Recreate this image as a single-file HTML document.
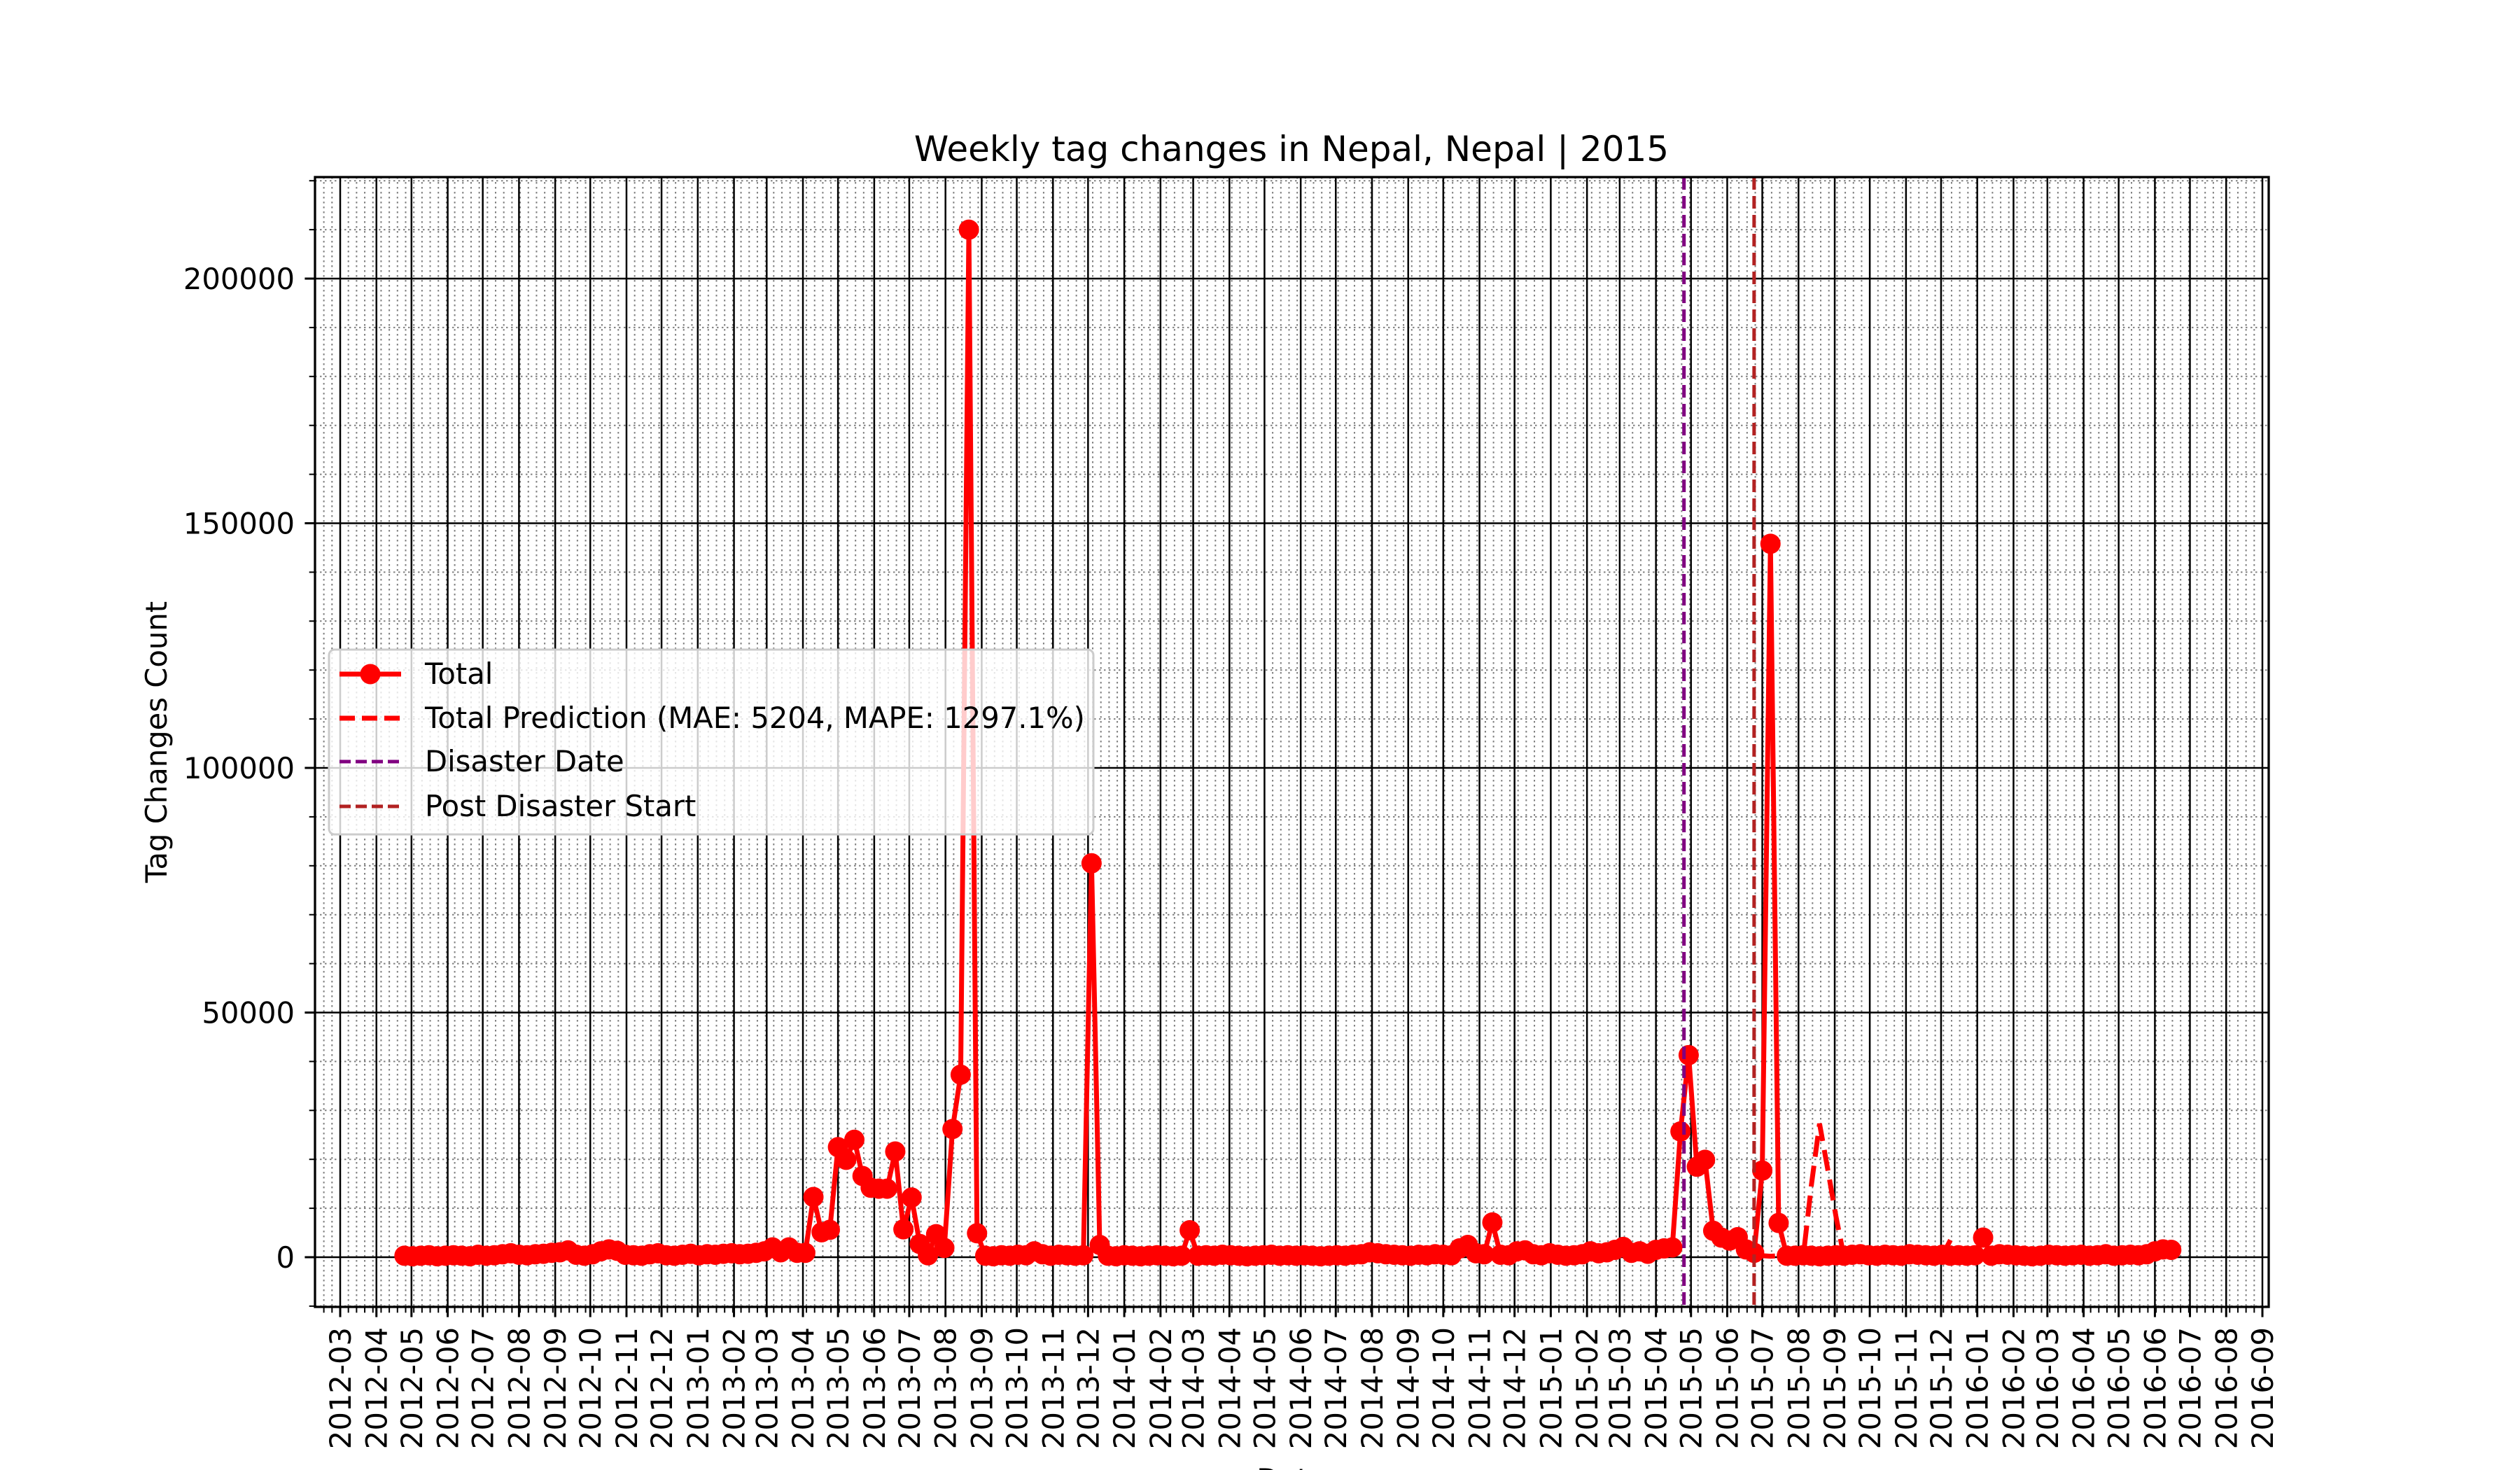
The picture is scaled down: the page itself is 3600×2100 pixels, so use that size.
<!DOCTYPE html>
<html><head><meta charset="utf-8"><style>
html,body{margin:0;padding:0;background:#fff;}
svg{display:block;font-family:"DejaVu Sans","Liberation Sans",sans-serif;}
</style></head><body>
<svg id="chart" xmlns="http://www.w3.org/2000/svg" width="3600" height="2100" viewBox="0 0 3600 2100">
<rect x="0" y="0" width="3600" height="2100" fill="#fff"/>
<g id="grid"></g>
<g id="series"></g>
<g id="axes"></g>
<text x="1845" y="230" font-size="50" text-anchor="middle">Weekly tag changes in Nepal, Nepal | 2015</text>
<text transform="translate(238,1060) rotate(-90)" font-size="41.7" text-anchor="middle">Tag Changes Count</text>
<text x="1845" y="2128" font-size="41.7" text-anchor="middle">Date</text>
<g id="legend">
  <rect x="470" y="928" width="1092" height="264" rx="8" fill="rgba(255,255,255,0.8)" stroke="#cccccc" stroke-width="3"/>
  <g>
    <line x1="485" y1="963" x2="573" y2="963" stroke="#ff0000" stroke-width="7"/>
    <circle cx="529" cy="963" r="14.5" fill="#ff0000"/>
    <text x="607" y="977" font-size="41.7">Total</text>
  </g>
  <g>
    <line x1="485" y1="1026" x2="573" y2="1026" stroke="#ff0000" stroke-width="7" stroke-dasharray="22,10"/>
    <text x="607" y="1040" font-size="41.7">Total Prediction (MAE: 5204, MAPE: 1297.1%)</text>
  </g>
  <g>
    <line x1="485" y1="1088" x2="573" y2="1088" stroke="#800080" stroke-width="5" stroke-dasharray="16,7"/>
    <text x="607" y="1102" font-size="41.7">Disaster Date</text>
  </g>
  <g>
    <line x1="485" y1="1152" x2="573" y2="1152" stroke="#b22222" stroke-width="5" stroke-dasharray="16,7"/>
    <text x="607" y="1166" font-size="41.7">Post Disaster Start</text>
  </g>
</g>
</svg>
<script>
// ---- data ----
const startDate = "2012-04-25"; // first weekly point
const totalValues = [
300,200,300,400,200,300,400,300,200,500,
300,400,600,800,500,400,600,700,900,1000,
1400,500,300,600,1200,1600,1300,500,400,300,
600,800,400,300,500,700,400,600,500,700,
800,600,700,900,1200,2000,1000,2000,900,900,
12300,5100,5600,22500,19900,24000,16600,14200,14000,14000,
21600,5700,12200,2700,400,4700,1900,26200,37300,210000,
4900,300,200,400,300,500,400,1200,600,300,
500,400,300,400,80500,2500,300,200,400,300,
200,300,400,300,200,300,5500,300,400,300,
500,400,300,200,300,400,500,300,400,300,
400,300,200,300,400,300,500,600,1000,800,
600,500,400,300,500,400,600,500,400,1800,
2500,800,600,7100,500,400,1200,1400,600,400,
800,500,300,400,600,1200,800,1000,1500,2100,
900,1200,700,1500,1800,2000,25700,41300,18500,19900,
5400,4000,3400,4100,1600,900,17700,145800,7000,300,
300,400,300,200,300,400,300,500,600,400,
300,500,400,300,600,500,400,300,500,300,
400,300,400,4000,300,600,500,400,300,200,
300,500,400,300,400,500,300,400,600,300,
400,500,400,600,1200,1600,1500
];
const predStartIndex = 165;
const predValues = [500,300,200,300,200,300,0,14700,27300,18000,8400,0,200,300,200,300,200,300,200,300,200,300,300,300,3500];
const disasterDate = "2015-04-25";
const postDisasterDate = "2015-06-24";
const yTicks = [0,50000,100000,150000,200000];
const yTickLabels = ["0","50000","100000","150000","200000"];
const xStartMonth = "2012-03-01", xEndMonth = "2016-09-01";

// ---- scales ----
const PL=450, PR=3241, PT=253, PB=1867;
const ORIGIN = Date.UTC(2012,2,1);
function dayOf(s){const p=s.split('-').map(Number);return (Date.UTC(p[0],p[1]-1,p[2])-ORIGIN)/86400000;}
const X0=486, X1=3232, D1=dayOf(xEndMonth);
function xs(day){return X0+day*(X1-X0)/D1;}
function ys(v){return 1796 - v*(1398/200000);}
const NS="http://www.w3.org/2000/svg";
function mk(tag,attrs,parent){const e=document.createElementNS(NS,tag);for(const k in attrs)e.setAttribute(k,attrs[k]);parent.appendChild(e);return e;}
const grid=document.getElementById('grid'), series=document.getElementById('series'), axes=document.getElementById('axes');
const sd=dayOf(startDate);

for(let d=-14; xs(d)<=PR; d+=7){
  const x=xs(d); if(x<PL) continue;
  const l=mk('line',{x1:x,y1:PT,x2:x,y2:PB,stroke:'#808080','stroke-width':2,'stroke-dasharray':'2.5,4.5'},grid);
  
  
  const t=mk('line',{x1:x,y1:PB,x2:x,y2:PB+8.3,stroke:'#000','stroke-width':2},axes);
  
  
}
for(let v=-10000; v<=220000; v+=10000){
  const y=ys(v);
  const l=mk('line',{x1:PL,y1:y,x2:PR,y2:y,stroke:'#808080','stroke-width':2,'stroke-dasharray':'2.5,4.5'},grid);
  
  
  const t=mk('line',{x1:PL-8.3,y1:y,x2:PL,y2:y,stroke:'#000','stroke-width':2},axes);
  
  
}
for(let yr=2012, m=3; ; ){
  const lbl=yr+'-'+String(m).padStart(2,'0');
  const d=dayOf(lbl+'-01'); if(d>D1) break;
  const x=xs(d);
  const l=mk('line',{x1:x,y1:PT,x2:x,y2:PB,stroke:'#000','stroke-width':2.5},grid);
  
  
  const t=mk('line',{x1:x,y1:PB,x2:x,y2:PB+14.6,stroke:'#000','stroke-width':3},axes);
  
  
  const tx=mk('text',{transform:`translate(${x+15},${PB+29}) rotate(-90)`,'font-size':41.7,'text-anchor':'end'},axes);
  tx.textContent=lbl;
  
  
  m++; if(m>12){m=1;yr++;}
}
yTicks.forEach((v,i)=>{
  const y=ys(v);
  const l=mk('line',{x1:PL,y1:y,x2:PR,y2:y,stroke:'#000','stroke-width':2.5},grid);
  
  
  const t=mk('line',{x1:PL-14.6,y1:y,x2:PL,y2:y,stroke:'#000','stroke-width':3},axes);
  
  
  const tx=mk('text',{x:PL-29,y:y+15,'font-size':41.7,'text-anchor':'end'},axes);
  tx.textContent=yTickLabels[i];
  
  
});
const sp=mk('rect',{x:PL,y:PT,width:PR-PL,height:PB-PT,fill:'none',stroke:'#000','stroke-width':3.3},axes);



const pts=totalValues.map((v,i)=>[xs(sd+7*i),ys(v)]);
const pl=mk('polyline',{points:pts.map(p=>p.join(',')).join(' '),fill:'none',stroke:'#ff0000','stroke-width':7,'stroke-linejoin':'round'},series);


pts.forEach(p=>{
  const c=mk('circle',{cx:p[0],cy:p[1],r:14.5,fill:'#ff0000'},series);
  
  
});
const ppts=predValues.map((v,i)=>[xs(sd+7*(predStartIndex+i)),ys(v)]);
const pp=mk('polyline',{points:ppts.map(p=>p.join(',')).join(' '),fill:'none',stroke:'#ff0000','stroke-width':7,'stroke-dasharray':'30,13'},series);


const dx=xs(dayOf(disasterDate));
const dl=mk('line',{x1:dx,y1:PT,x2:dx,y2:PB,stroke:'#800080','stroke-width':5,'stroke-dasharray':'18,9'},series);


const px=xs(dayOf(postDisasterDate));
const pd=mk('line',{x1:px,y1:PT,x2:px,y2:PB,stroke:'#b22222','stroke-width':5,'stroke-dasharray':'18,9'},series);


</script>
</body></html>
